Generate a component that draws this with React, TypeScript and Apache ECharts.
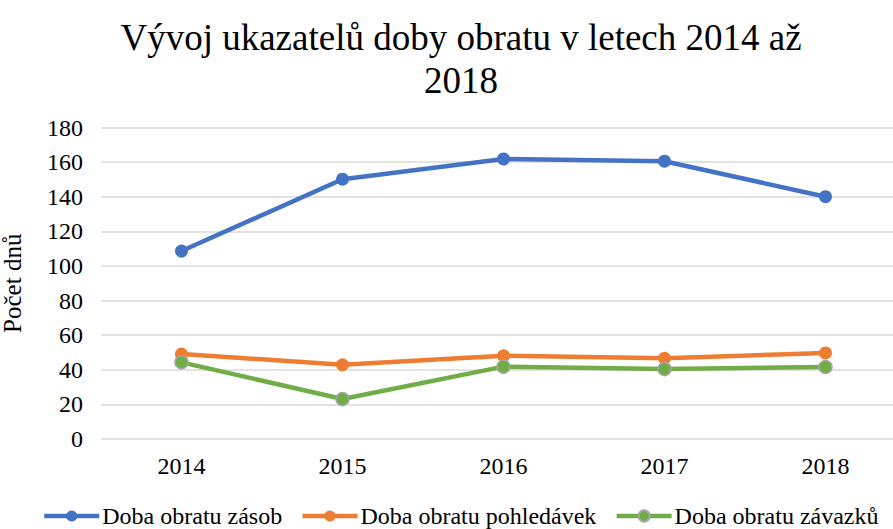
import React, { useEffect, useRef } from "react";
import * as echarts from "echarts";

const years = ["2014", "2015", "2016", "2017", "2018"];
const zasob = [108.6, 150.1, 161.8, 160.5, 140.0];
const pohledavek = [49.1, 42.9, 48.1, 46.6, 49.7];
const zavazku = [44.3, 23.1, 41.8, 40.4, 41.6];
const seriesNames = ["Doba obratu zásob", "Doba obratu pohledávek", "Doba obratu závazků"];
const titleText = "Vývoj ukazatelů doby obratu v letech 2014 až\n2018";
const yAxisName = "Počet dnů";

const FONT = "Liberation Serif";

export default function App() {
  const ref = useRef<HTMLDivElement>(null);
  useEffect(() => {
    const chart = echarts.init(ref.current!, undefined, { renderer: "svg" });
    const mk = (name: string, data: number[], color: string, border?: string) => ({
      name,
      type: "line",
      data,
      symbol: "circle",
      symbolSize: 13,
      lineStyle: { color, width: 4.5 },
      itemStyle: border
        ? { color, borderColor: border, borderWidth: 1.5 }
        : { color },
      emphasis: { disabled: true },
    });
    chart.setOption({
      animation: false,
      backgroundColor: "#ffffff",
      textStyle: { fontFamily: FONT },
      title: {
        text: titleText,
        left: 456,
        textAlign: "center",
        top: 11,
        textStyle: {
          fontFamily: FONT,
          fontSize: 37,
          fontWeight: "normal",
          color: "#000",
          lineHeight: 43,
        },
      },
      legend: {
        left: 42,
        top: 504,
        padding: 0,
        itemWidth: 55,
        itemHeight: 14,
        itemGap: 18,
        lineStyle: { width: 4.5 },
        textStyle: { fontFamily: FONT, fontSize: 24, color: "#000", padding: [0, 0, 0, -2] },
        data: seriesNames,
      },
      grid: {
        left: 101,
        right: -13,
        top: 127.5,
        bottom: 90,
        containLabel: false,
        outerBoundsMode: "none",
      },
      xAxis: {
        type: "category",
        data: years,
        boundaryGap: true,
        axisLine: { show: false },
        axisTick: { show: false },
        axisLabel: { fontFamily: FONT, fontSize: 24, color: "#000", margin: 15 },
      },
      yAxis: {
        type: "value",
        min: 0,
        max: 180,
        interval: 20,
        name: yAxisName,
        nameLocation: "middle",
        nameGap: 76,
        nameRotate: 90,
        nameTextStyle: { fontFamily: FONT, fontSize: 25, color: "#000" },
        axisLine: { show: false },
        axisTick: { show: false },
        axisLabel: { fontFamily: FONT, fontSize: 24, color: "#000", margin: 18 },
        splitLine: { lineStyle: { color: "#D9D9D9", width: 1.5 } },
      },
      series: [
        mk(seriesNames[0], zasob, "#4472C4"),
        mk(seriesNames[1], pohledavek, "#ED7D31"),
        mk(seriesNames[2], zavazku, "#70AD47", "#A5A5A5"),
      ],
    });
    return () => chart.dispose();
  }, []);
  return (
    <div
      ref={ref}
      style={{ position: "fixed", left: 0, top: 0, width: 893, height: 529, background: "#fff" }}
    />
  );
}
